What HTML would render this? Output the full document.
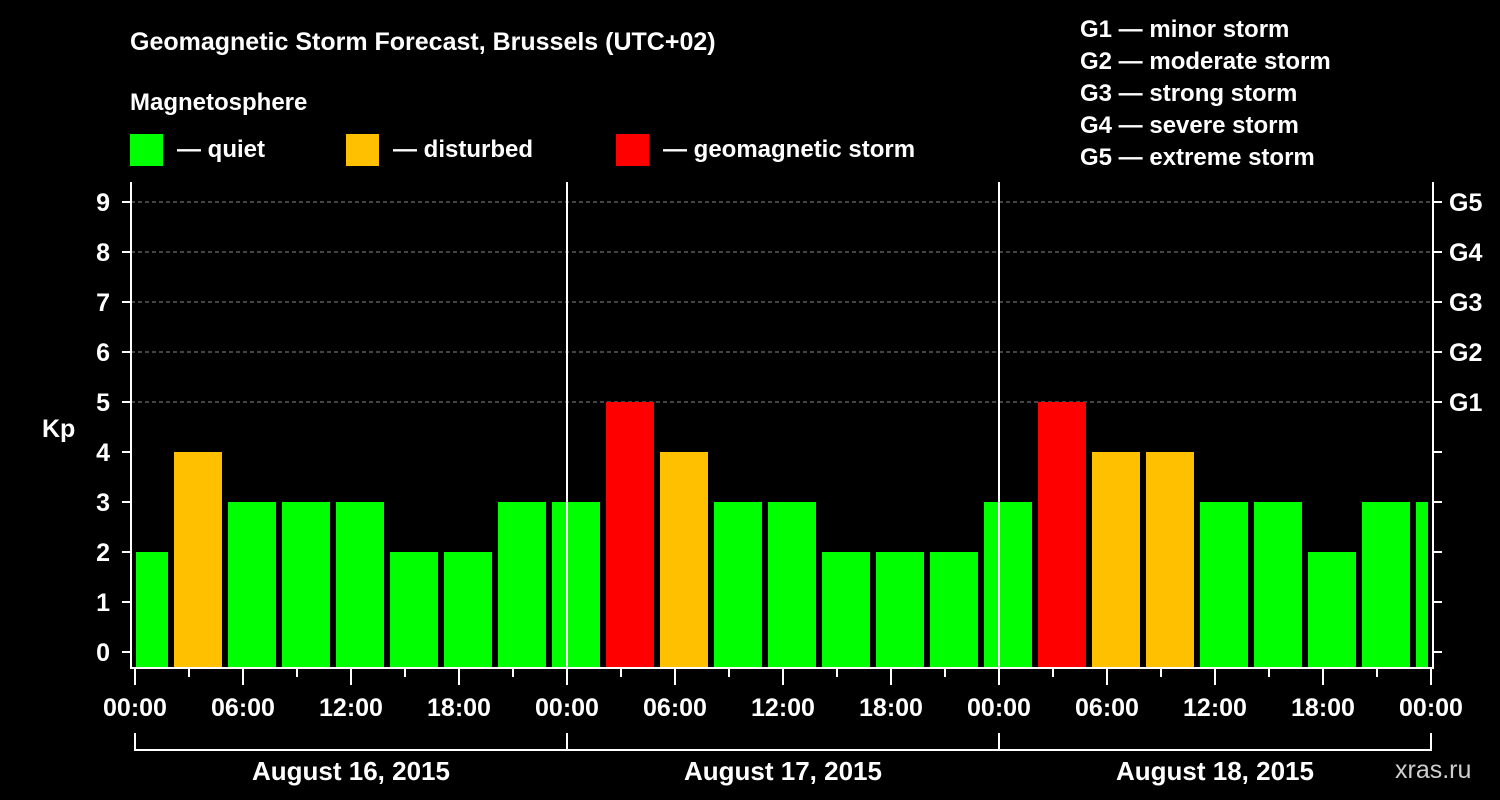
<!DOCTYPE html>
<html><head><meta charset="utf-8"><style>
body{margin:0;background:#000;width:1500px;height:800px;overflow:hidden}
svg{display:block}
text{font-family:"Liberation Sans",Arial,sans-serif;font-weight:bold;fill:#fff}
</style></head><body>
<svg width="1500" height="800">
<text x="130" y="50" font-size="25">Geomagnetic Storm Forecast, Brussels (UTC+02)</text>
<text x="130" y="110" font-size="24">Magnetosphere</text>
<rect x="130" y="134" width="33" height="32" fill="#00ff00"/>
<text x="177" y="157" font-size="24">— quiet</text>
<rect x="346" y="134" width="33" height="32" fill="#ffc000"/>
<text x="393" y="157" font-size="24">— disturbed</text>
<rect x="616" y="134" width="33" height="32" fill="#ff0000"/>
<text x="663" y="157" font-size="24">— geomagnetic storm</text>
<g font-size="24">
<text x="1080" y="37">G1 — minor storm</text>
<text x="1080" y="69">G2 — moderate storm</text>
<text x="1080" y="101">G3 — strong storm</text>
<text x="1080" y="133">G4 — severe storm</text>
<text x="1080" y="165">G5 — extreme storm</text>
</g>
<text x="42" y="437" font-size="25">Kp</text>
<text x="1395" y="778" font-size="25" fill="#ccc" style="fill:#cfcfcf;font-weight:normal">xras.ru</text>
<defs><clipPath id="pc"><rect x="131" y="182" width="1297" height="487"/></clipPath></defs>
<g id="grid"></g>
<g id="bars" clip-path="url(#pc)"></g>
<g id="axes"></g>
</svg>
<script>
const kpValues=[2,4,3,3,3,2,2,3,3,5,4,3,3,2,2,2,3,5,4,4,3,3,2,3,3];
const binStartHours=[-1,2,5,8,11,14,17,20,23,26,29,32,35,38,41,44,47,50,53,56,59,62,65,68,71];
const yTicks=[0,1,2,3,4,5,6,7,8,9];
const gLabels=["G1","G2","G3","G4","G5"];
const xTickLabels=["00:00","06:00","12:00","18:00","00:00","06:00","12:00","18:00","00:00","06:00","12:00","18:00","00:00"];
const dateLabels=["August 16, 2015","August 17, 2015","August 18, 2015"];
const NS="http://www.w3.org/2000/svg";
const xs=h=>135+h*18, ys=v=>652-v*50;
function mk(tag,attrs,parent){const e=document.createElementNS(NS,tag);for(const k in attrs)e.setAttribute(k,attrs[k]);parent.appendChild(e);return e;}
const grid=document.getElementById('grid'),bars=document.getElementById('bars'),axes=document.getElementById('axes');
for(let v=5;v<=9;v++){const l=mk('line',{x1:131,x2:1433,y1:ys(v),y2:ys(v),stroke:'#888','stroke-dasharray':'4,3','stroke-width':1},grid);

}
kpValues.forEach((v,i)=>{const x0=xs(binStartHours[i])+3,x1=xs(binStartHours[i]+3)-3;
const c=v>=5?'#ff0000':(v>=4?'#ffc000':'#00ff00');
const r=mk('rect',{x:Math.max(x0,136),y:ys(v),width:x1-Math.max(x0,136),height:668-ys(v),fill:c},bars);

});
[1,2].forEach(d=>{const l=mk('line',{x1:xs(24*d),x2:xs(24*d),y1:182,y2:668,stroke:'#fff','stroke-width':2},axes);

});
const fr=mk('path',{d:'M131 182 V668 H1433 V182',fill:'none',stroke:'#fff','stroke-width':2},axes);


yTicks.forEach(v=>{mk('line',{x1:122,x2:131,y1:ys(v),y2:ys(v),stroke:'#fff','stroke-width':2},axes);
mk('line',{x1:1433,x2:1442,y1:ys(v),y2:ys(v),stroke:'#fff','stroke-width':2},axes);
const t=mk('text',{x:110,y:ys(v)+9,'font-size':25,'text-anchor':'end'},axes);t.textContent=v;

});
gLabels.forEach((g,i)=>{const t=mk('text',{x:1449,y:ys(5+i)+9,'font-size':25},axes);t.textContent=g;

});
for(let h=0;h<=72;h+=3){const long=h%6==0;mk('line',{x1:xs(h),x2:xs(h),y1:668,y2:long?685:677,stroke:'#fff','stroke-width':2},axes);}
xTickLabels.forEach((s,i)=>{const t=mk('text',{x:xs(i*6),y:716,'font-size':25,'text-anchor':'middle'},axes);t.textContent=s;

});
mk('path',{d:'M135 733 V750 H1431 V733',fill:'none',stroke:'#fff','stroke-width':2},axes);
[1,2].forEach(d=>mk('line',{x1:xs(24*d),x2:xs(24*d),y1:733,y2:750,stroke:'#fff','stroke-width':2},axes));
dateLabels.forEach((s,i)=>{const t=mk('text',{x:xs(24*i+12),y:780,'font-size':26,'text-anchor':'middle'},axes);t.textContent=s;

});
</script>
</body></html>
